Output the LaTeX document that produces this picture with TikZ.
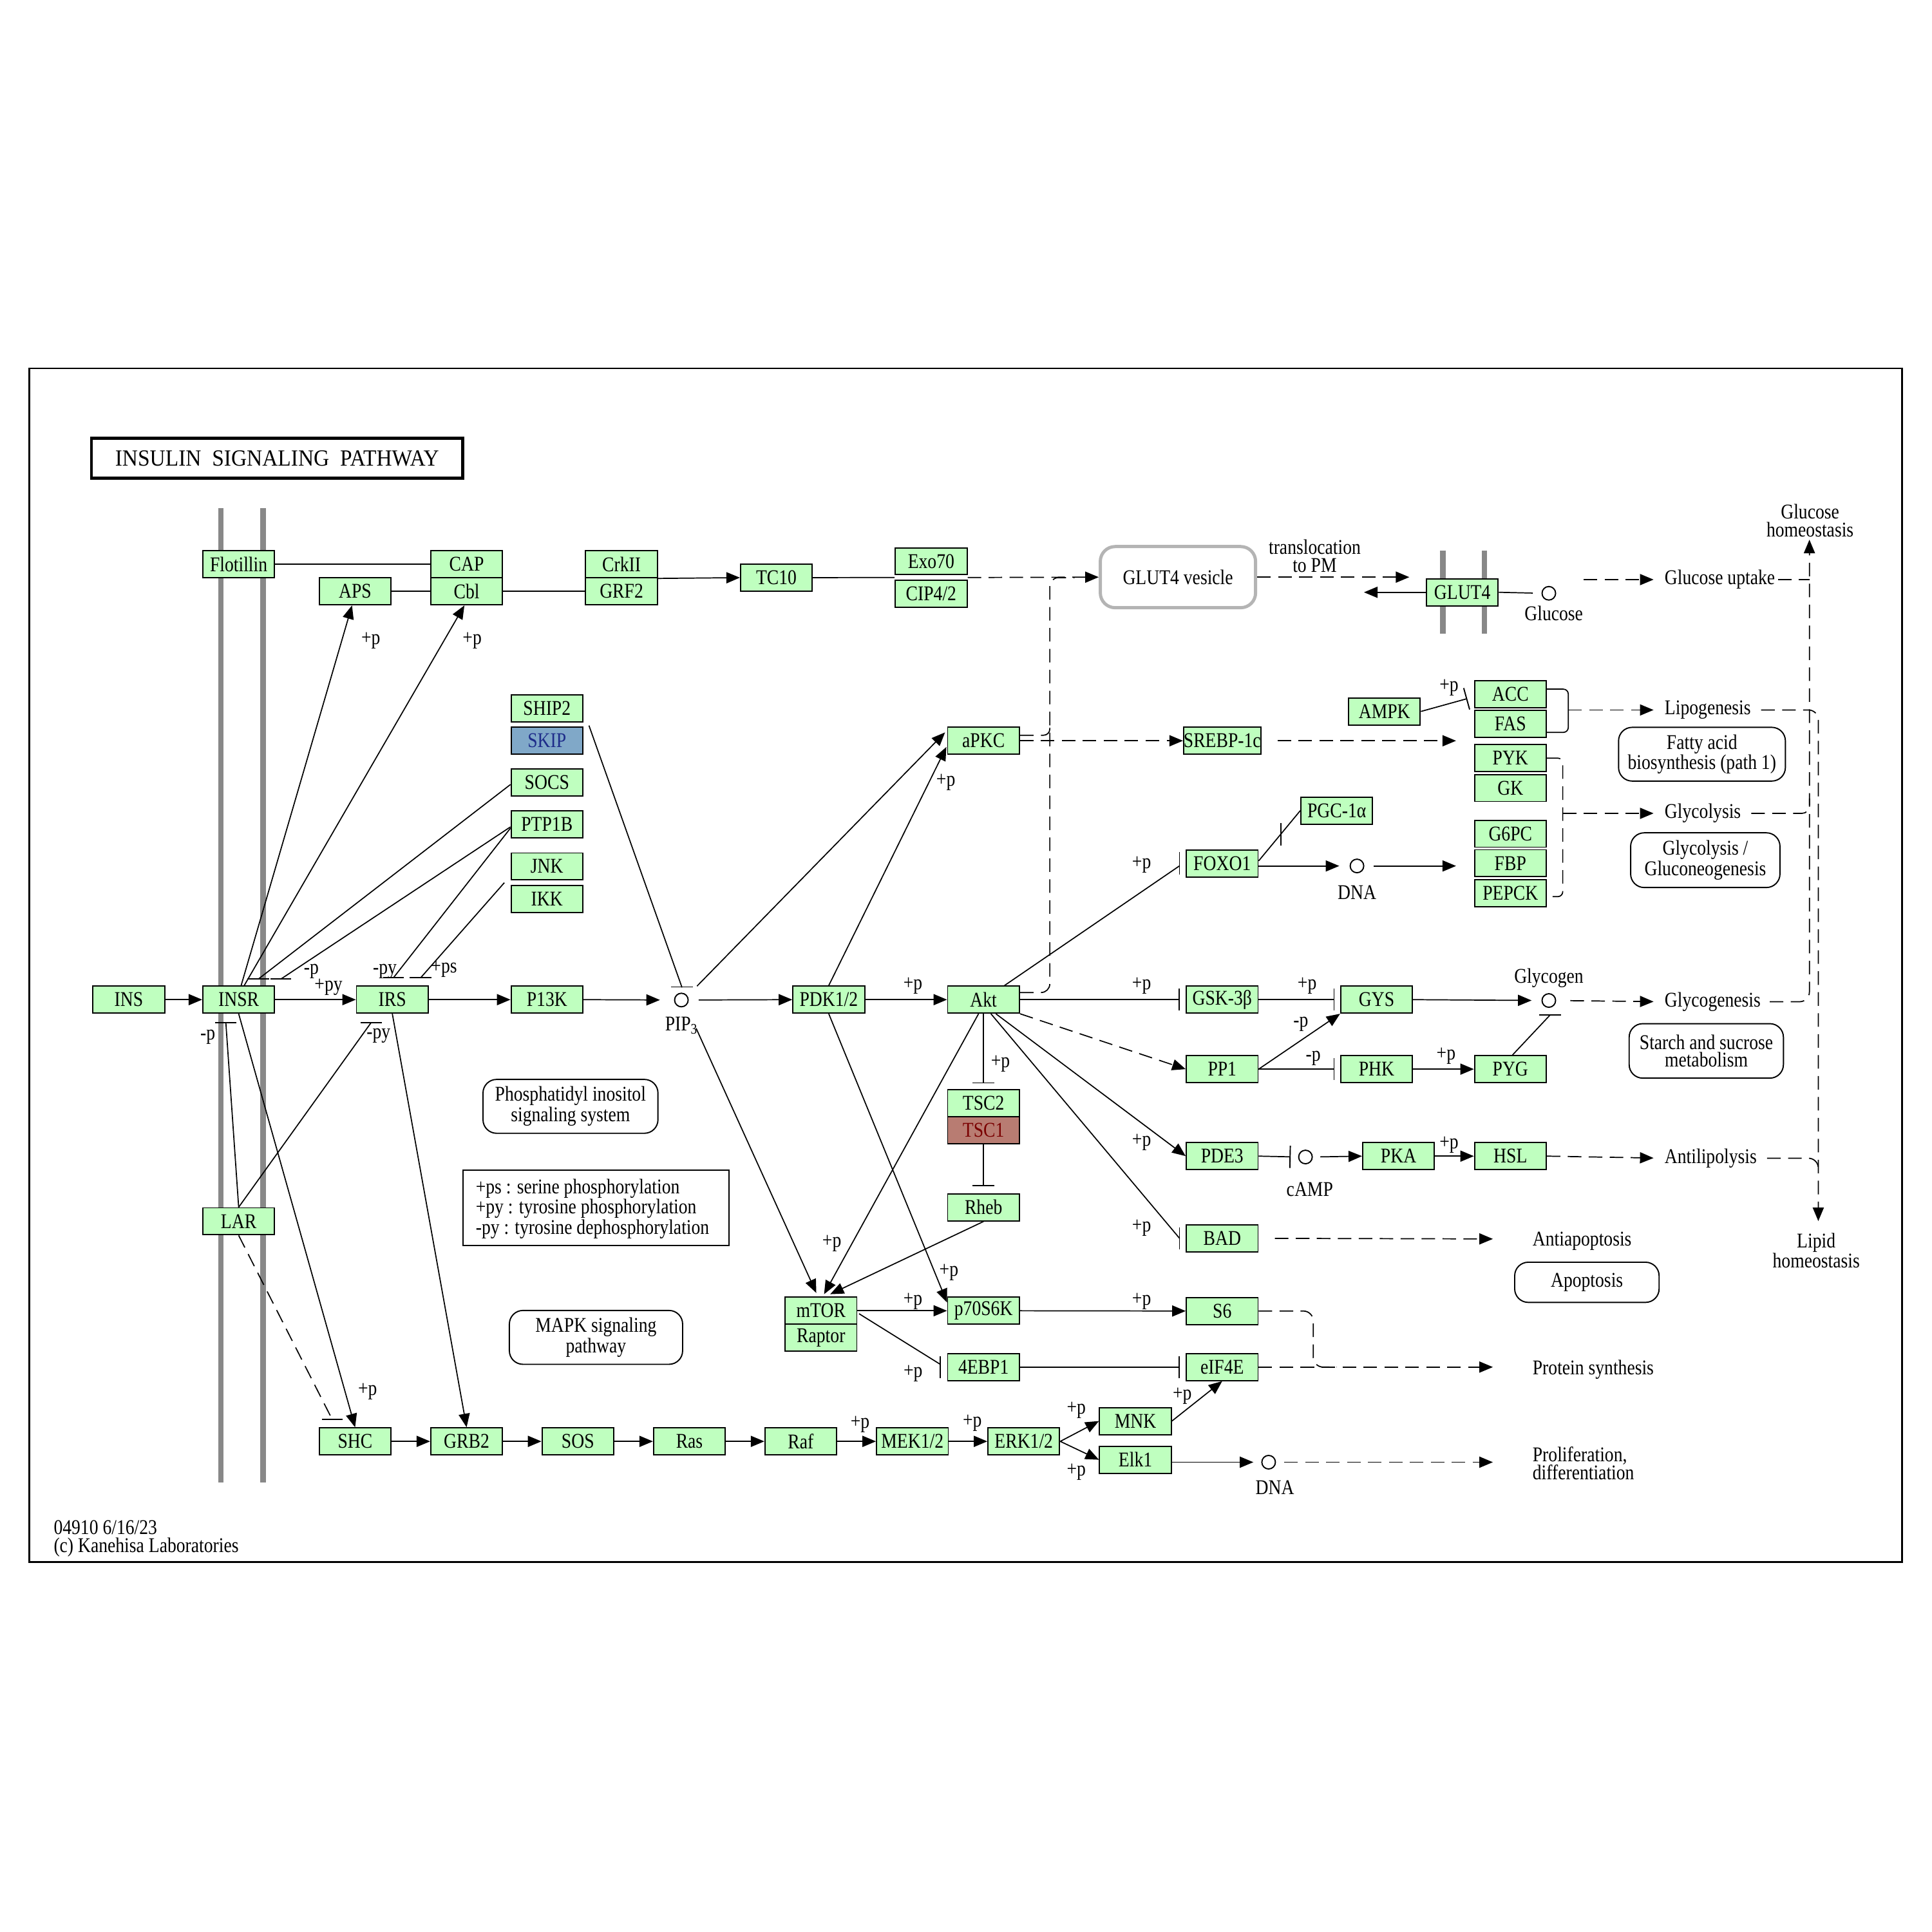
\documentclass[tikz,border=0pt]{standalone}
\usepackage{fontspec}
\setmainfont[FakeStretch=0.85]{Liberation Serif}
\newfontfamily\titlefont[FakeStretch=0.93]{Liberation Serif}
\usetikzlibrary{arrows.meta,calc}
\definecolor{kg}{HTML}{BFFFBF}
\definecolor{skipfill}{HTML}{80A8C8}
\definecolor{skiptext}{HTML}{1E2C8A}
\definecolor{tscfill}{HTML}{B87C72}
\definecolor{tsctext}{HTML}{7A0000}
\definecolor{memb}{HTML}{888888}
\definecolor{vesc}{HTML}{B4B4B4}
\newcommand{\gf}{\fontsize{17}{13.5}\selectfont}
\newcommand{\mf}{\fontsize{17}{14.6}\selectfont}
\newcommand{\kvbar}[2]{\draw ($(#1)+(#2,-9)$) -- ($(#1)+(#2,9)$);}
\newcommand{\khbar}[2]{\draw ($(#1)+(-#2,0)$) -- ($(#1)+(#2,0)$);}
\tikzset{
  kgbox/.style={draw, line width=1pt, fill=kg, minimum width=58.2pt, minimum height=21.9pt, inner sep=0pt, font=\gf},
  cpd/.style={circle, draw, line width=1pt, minimum size=11pt, inner sep=0pt, fill=white},
  lbl/.style={inner sep=0pt, font=\gf},
  mlbl/.style={inner sep=0pt, font=\mf},
  mapbox/.style={draw, line width=1pt, rounded corners=11pt, align=center, inner sep=0pt, font=\mf},
  act/.style={-{Triangle[length=11pt,width=9pt]}},
  inh/.style={-{Bar[width=18pt,line width=1pt]}},
  dsh/.style={dash pattern=on 11pt off 6pt},
  membl/.style={draw=memb, line width=4.5pt}
}
\begin{document}
\begin{tikzpicture}[x=1pt,y=-1pt,line width=0.9pt]
\useasboundingbox (0,0) rectangle (1568,1568);
% frame and membranes
\draw[line width=1.3pt] (23.9,298.9) rectangle (1543.7,1267.8);
\draw[membl] (179.2,412.6) -- (179.2,1203.2);
\draw[membl] (213.5,412.6) -- (213.5,1203.2);
\draw[membl] (1171,446.7) -- (1171,514.2);
\draw[membl] (1204.8,446.7) -- (1204.8,514.2);
% title
\node[draw, line width=2.5pt, minimum width=301.4pt, minimum height=32.5pt, inner sep=0pt, font=\titlefont\fontsize{18.8}{20}\selectfont] (title) at (224.9,372) {INSULIN~~SIGNALING~~PATHWAY};
% genes
\node[kgbox] (INS) at (104.5,811.3) {INS};
\node[kgbox] (INSR) at (193.7,811.3) {INSR};
\node[kgbox] (IRS) at (318.4,811.3) {IRS};
\node[kgbox] (P13K) at (443.9,811.3) {P13K};
\node[kgbox] (PDK) at (672.6,811.3) {PDK1/2};
\node[kgbox] (Akt) at (798.2,811.3) {Akt};
\node[kgbox] (GSK) at (991.9,811.3) {GSK-3β};
\node[kgbox] (GYS) at (1117.2,811.3) {GYS};
\node[kgbox] (Flot) at (193.7,458) {Flotillin};
\node[kgbox] (CAP) at (378.7,458) {CAP};
\node[kgbox] (Cbl) at (378.7,479.9) {Cbl};
\node[kgbox] (APS) at (288.2,479.9) {APS};
\node[kgbox] (CrkII) at (504.4,458) {CrkII};
\node[kgbox] (GRF2) at (504.4,479.9) {GRF2};
\node[kgbox] (TC10) at (630.1,468.8) {TC10};
\node[kgbox] (Exo70) at (755.7,455.5) {Exo70};
\node[kgbox] (CIP) at (755.7,481.9) {CIP4/2};
\node[kgbox] (SHIP2) at (443.9,574.9) {SHIP2};
\node[kgbox, fill=skipfill, text=skiptext] (SKIP) at (443.9,601.2) {SKIP};
\node[kgbox] (SOCS) at (443.9,635.2) {SOCS};
\node[kgbox] (PTP1B) at (443.9,669.1) {PTP1B};
\node[kgbox] (JNK) at (443.9,703.2) {JNK};
\node[kgbox] (IKK) at (443.9,729.6) {IKK};
\node[kgbox] (aPKC) at (798.2,601.2) {aPKC};
\node[kgbox] (SREBP) at (991.9,601.2) {SREBP-1c};
\node[kgbox] (AMPK) at (1123.6,577.4) {AMPK};
\node[kgbox] (ACC) at (1225.8,563.5) {ACC};
\node[kgbox] (FAS) at (1225.8,587.5) {FAS};
\node[kgbox] (PYK) at (1225.8,615.3) {PYK};
\node[kgbox] (GK) at (1225.8,639.5) {GK};
\node[kgbox] (G6PC) at (1225.8,676.6) {G6PC};
\node[kgbox] (FBP) at (1225.8,700.6) {FBP};
\node[kgbox] (PEPCK) at (1225.8,724.8) {PEPCK};
\node[kgbox] (GLUT4) at (1186.8,480.7) {GLUT4};
\node[kgbox] (PGC) at (1084.9,657.9) {PGC-1α};
\node[kgbox] (FOXO1) at (991.9,700.7) {FOXO1};
\node[kgbox] (PP1) at (991.9,867.7) {PP1};
\node[kgbox] (PHK) at (1117.2,867.7) {PHK};
\node[kgbox] (PYG) at (1225.8,867.7) {PYG};
\node[kgbox] (TSC2) at (798.2,895.5) {TSC2};
\node[kgbox, fill=tscfill, text=tsctext] (TSC1) at (798.2,917.2) {TSC1};
\node[kgbox] (Rheb) at (798.2,979.9) {Rheb};
\node[kgbox] (PDE3) at (991.9,938.3) {PDE3};
\node[kgbox] (PKA) at (1135,938.3) {PKA};
\node[kgbox] (HSL) at (1225.8,938.3) {HSL};
\node[kgbox] (BAD) at (991.9,1005) {BAD};
\node[kgbox] (mTOR) at (666.3,1063.8) {mTOR};
\node[kgbox] (Raptor) at (666.3,1085.7) {Raptor};
\node[kgbox] (p70) at (798.2,1063.8) {p70S6K};
\node[kgbox] (EBP) at (798.2,1109.5) {4EBP1};
\node[kgbox] (S6) at (991.9,1064) {S6};
\node[kgbox] (eIF) at (991.9,1109.5) {eIF4E};
\node[kgbox] (LAR) at (193.7,991.2) {LAR};
\node[kgbox] (SHC) at (288.2,1169.8) {SHC};
\node[kgbox] (GRB2) at (378.7,1169.8) {GRB2};
\node[kgbox] (SOS) at (469,1169.8) {SOS};
\node[kgbox] (Ras) at (559.5,1169.8) {Ras};
\node[kgbox] (Raf) at (649.9,1169.8) {Raf};
\node[kgbox] (MEK) at (740.5,1169.8) {MEK1/2};
\node[kgbox] (ERK) at (830.9,1169.8) {ERK1/2};
\node[kgbox] (MNK) at (921.5,1153.3) {MNK};
\node[kgbox] (Elk1) at (921.5,1184.7) {Elk1};
% compounds
\node[cpd] (pip) at (553,811.6) {};
\node[cpd] (glc) at (1257,481.5) {};
\node[cpd] (dna1) at (1101.3,702.8) {};
\node[cpd] (glyc) at (1257,812) {};
\node[cpd] (camp) at (1059.5,939) {};
\node[cpd] (dna2) at (1029.6,1186.7) {};
\node[lbl] (pipl) at (553,832.3) {PIP\textsubscript{3}};
\node[lbl] (glcl) at (1261,498) {Glucose};
\node[lbl] (dna1l) at (1101.3,724.5) {DNA};
\node[lbl] (glycl) at (1257,793.9) {Glycogen};
\node[lbl] (campl) at (1063,965.3) {cAMP};
\node[lbl] (dna2l) at (1034.7,1207.4) {DNA};
% vesicle and maps
\node[draw=vesc, line width=2.6pt, rounded corners=12pt, minimum width=126pt, minimum height=49.6pt, inner sep=0pt, font=\gf] (ves) at (956,468.4) {GLUT4 vesicle};
\node[mapbox, minimum width=135.4pt, minimum height=43.6pt] (fab) at (1381.3,612.1) {Fatty acid\\biosynthesis (path 1)};
\node[mapbox, minimum width=121.2pt, minimum height=44.4pt] (glyg) at (1384,698.1) {Glycolysis /\\Gluconeogenesis};
\node[mapbox, minimum width=125.2pt, minimum height=44.2pt] (starch) at (1384.8,852.9) {Starch and sucrose\\metabolism};
\node[mapbox, minimum width=117.2pt, minimum height=32.6pt] (apop) at (1287.9,1040.7) {Apoptosis};
\node[mapbox, minimum width=142pt, minimum height=43.7pt] (pis) at (463,897.9) {Phosphatidyl inositol\\signaling system};
\node[mapbox, minimum width=140.6pt, minimum height=43.7pt] (mapk) at (483.7,1085.4) {MAPK signaling\\pathway};
% legend and footer
\node[draw, line width=1pt, minimum width=215.9pt, minimum height=60.8pt, inner sep=0pt] (legend) at (483.6,980.2) {};
\node[lbl, anchor=west, align=left, font=\fontsize{17}{14.7}\selectfont] (legtxt) at (385.7,981.1) {+ps : serine phosphorylation\\+py : tyrosine phosphorylation\\-py : tyrosine dephosphorylation};
\node[lbl, anchor=west, align=left, font=\fontsize{17}{14.6}\selectfont] (foot) at (43.2,1248.8) {04910 6/16/23\\(c) Kanehisa Laboratories};
% outcome texts
\node[mlbl, align=center] (trans) at (1067,451.3) {translocation\\to PM};
\node[mlbl, align=center] (ghom) at (1469,422.4) {Glucose\\homeostasis};
\node[mlbl, align=center] (lhom) at (1474,1014.9) {Lipid\\homeostasis};
\node[lbl, anchor=west] (gu) at (1350.6,470.4) {Glucose uptake};
\node[lbl, anchor=west] (lipo) at (1350.6,576.2) {Lipogenesis};
\node[lbl, anchor=west] (glycolysis) at (1350.6,660.1) {Glycolysis};
\node[lbl, anchor=west] (glycogenesis) at (1350.6,813) {Glycogenesis};
\node[lbl, anchor=west] (antil) at (1350.6,940) {Antilipolysis};
\node[lbl, anchor=west] (antiap) at (1243.4,1007.3) {Antiapoptosis};
\node[lbl, anchor=west] (psyn) at (1243.4,1111.4) {Protein synthesis};
\node[mlbl, anchor=west, align=left] (prolif) at (1243.4,1187.7) {Proliferation,\\differentiation};
% edge labels
\node[lbl] (l1) at (300.9,520) {+p};
\node[lbl] (l2) at (383.2,520) {+p};
\node[lbl] (l3) at (252.7,788.5) {-p};
\node[lbl] (l4) at (266.6,801.4) {+py};
\node[lbl] (l5) at (312.3,788.1) {-py};
\node[lbl] (l6) at (360.4,786.4) {+ps};
\node[lbl] (l7) at (168.6,841.9) {-p};
\node[lbl] (l8) at (307.2,840.8) {-py};
\node[lbl] (l9) at (298.3,1129.6) {+p};
\node[lbl] (l10) at (698,1156) {+p};
\node[lbl] (l11) at (789.1,1155) {+p};
\node[lbl] (l12) at (873.5,1144.5) {+p};
\node[lbl] (l13) at (873.5,1194.6) {+p};
\node[lbl] (l14) at (959.5,1132.8) {+p};
\node[lbl] (l15) at (740.9,1056) {+p};
\node[lbl] (l16) at (741,1114.7) {+p};
\node[lbl] (l17) at (926.5,1056) {+p};
\node[lbl] (l18) at (675.1,1009) {+p};
\node[lbl] (l19) at (770.1,1032.5) {+p};
\node[lbl] (l20) at (812,863.5) {+p};
\node[lbl] (l21) at (740.9,800.3) {+p};
\node[lbl] (l22) at (767.6,635) {+p};
\node[lbl] (l23) at (926.5,702) {+p};
\node[lbl] (l24) at (926.5,800.3) {+p};
\node[lbl] (l25) at (1060.8,800.3) {+p};
\node[lbl] (l26) at (1055.7,831.2) {-p};
\node[lbl] (l27) at (1065.8,859) {-p};
\node[lbl] (l28) at (1173.6,856.8) {+p};
\node[lbl] (l29) at (926.5,927.2) {+p};
\node[lbl] (l30) at (926.5,996.7) {+p};
\node[lbl] (l31) at (1176,929.3) {+p};
\node[lbl] (l32) at (1176,558.3) {+p};
% free end coordinates
\coordinate (exoL) at ($(Exo70.south west)!0.5!(CIP.north west)$);
\coordinate (exoR) at ($(Exo70.south east)!0.5!(CIP.north east)$);
\coordinate (g4out) at (1107,480.7);
\coordinate (gu0) at (1285.3,470.4);
\coordinate (apo0) at (1211.6,1005.5);
\coordinate (ps0) at (1211.6,1109.5);
\coordinate (pr0) at (1211.6,1186.7);
% ---------- edges: top row
\draw (Flot.east) -- (CAP.west);
\draw (APS.east) -- (Cbl.west);
\draw (Cbl.east) -- (GRF2.west);
\draw[act] (CrkII.south east) -- (TC10.west);
\draw (TC10.east) -- (exoL);
\draw[dsh,act] (exoR) -- (ves.west);
\draw[dsh,act,shorten >=13.4pt] (ves.east) -- (ves.east -| GLUT4.west);
\draw[act] (GLUT4.west) -- (g4out);
\draw[shorten >=7pt] (GLUT4.east) -- (glc.west);
\draw[dsh,act,shorten >=8.6pt] (gu0) -- (gu.west);
% right side collectors
\draw[dsh,shorten <=2pt] (gu.east) -- (1468.5,470.4);
\draw[dsh,act,rounded corners=8pt,shorten <=7pt] (glycogenesis.east) -- (1468.5,813) -- (1468.5,438);
\draw[dsh,rounded corners=6pt,shorten <=8pt] (glycolysis.east) -- (1468.5,660.1) -- (1468.5,648);
\draw[dsh,act,rounded corners=8pt,shorten <=8pt] (lipo.east) -- (1475.7,576.2) -- (1475.7,991);
\draw[dsh,rounded corners=8pt,shorten <=8pt] (antil.east) -- (1475.7,940) -- (1475.7,952);
% brackets
\draw[rounded corners=4pt] ([yshift=4.2pt]ACC.east) -- (1272.8,559.3) -- (1272.8,594.4) -- ([yshift=-6.9pt]FAS.east);
\draw[dsh,act,shorten >=8.6pt] (1272.8,576.2) -- (lipo.west);
\draw[dsh,rounded corners=4pt] (PYK.east) -- (1268.3,615.3) -- (1268.3,727.7) -- ([yshift=-2.9pt]PEPCK.east);
\draw[dsh,act,shorten >=8.6pt] (1268.3,660.1) -- (glycolysis.west);
% SREBP, FOXO
\draw[dsh,act] (aPKC.east) -- (SREBP.west);
\draw[dsh,act,shorten <=13pt,shorten >=14.5pt] (SREBP.east) -- (SREBP.east -| FAS.west);
\draw[inh] (AMPK.east) -- ($(ACC.west)+(-5.4,3.5)$);
\draw ($(Akt.north)+(17,0)$) -- ($(FOXO1.west)+(-5,2)$);
\kvbar{FOXO1.west}{-5}
\draw ($(FOXO1.east)+(0,-2)$) -- (PGC.west);
\draw ($(FOXO1.east)!0.54!(PGC.west)+(0,-9.5)$) -- ($(FOXO1.east)!0.54!(PGC.west)+(0,8.5)$);
\draw[act,shorten >=8.4pt] (FOXO1.east |- dna1.west) -- (dna1.west);
\draw[act,shorten <=7.7pt,shorten >=14.5pt] (dna1.east) -- (dna1.east -| G6PC.west);
% aPKC / Akt to GLUT4 vesicle
\draw[dsh,rounded corners=7pt] ($(Akt.east)+(0,-5.8)$) -- (852,805.5) -- (852,468.8) -- (872,468.8);
\draw[dsh,rounded corners=5pt] ($(aPKC.east)+(0,-4.5)$) -- (852,596.7) -- (852,585);
% glycogen
\draw[inh,shorten >=5pt] (Akt.east) -- (GSK.west);
\draw[inh,shorten >=4.4pt] (GSK.east) -- (GYS.west);
\draw[act,shorten >=8pt] (GYS.east) -- (glyc.west);
\draw[dsh,act,shorten <=11.5pt,shorten >=8.6pt] (glyc.east) -- (glycogenesis.west);
\draw ($(PYG.north)+(1.7,0)$) -- ($(glyc.center)+(1,11.8)$);
\draw ($(glyc.center)+(-7.8,11.8)$) -- ($(glyc.center)+(9.8,11.8)$);
\draw[dsh,act] (Akt.south east) -- (PP1.west);
\draw[act] (PP1.east) -- (GYS.south west);
\draw[inh,shorten >=4.4pt] (PP1.east) -- (PHK.west);
\draw[act] (PHK.east) -- (PYG.west);
% lipolysis, apoptosis
\draw[act] ($(Akt.south)+(10,0)$) -- (PDE3.west);
\draw ($(Akt.south)+(6,0)$) -- ($(BAD.west)+(-5,0)$);
\kvbar{BAD.west}{-5}
\draw[inh,shorten >=6pt] (PDE3.east) -- (camp.west);
\draw[act,shorten <=6pt] (camp.east) -- (PKA.west);
\draw[act] (PKA.east) -- (HSL.west);
\draw[dsh,act,shorten >=8.6pt] (HSL.east) -- (antil.west);
\draw[dsh,act,shorten <=13.2pt] (BAD.east) -- (apo0);
% protein synthesis
\draw[dsh,rounded corners=8pt] (S6.east) -- (1065.8,1064) -- (1065.8,1109.5) -- (1085,1109.5);
\draw[dsh,act] (eIF.east) -- (ps0);
\draw[act,shorten >=6.4pt] (Elk1.east |- dna2.west) -- (dna2.west);
\draw[dsh,act,shorten <=6.7pt] (dna2.east) -- (pr0);
\draw[act] (ERK.east) -- (MNK.west);
\draw[act] (ERK.east) -- (Elk1.west);
\draw[act] (MNK.east) -- (eIF.south);
\draw[inh,shorten >=5pt] (EBP.east) -- (eIF.west);
\draw[act] (mTOR.east) -- (p70.west);
\draw ($(mTOR.east)+(1.3,2.4)$) -- ($(EBP.west)+(-5.6,-2.3)$);
\kvbar{EBP.west}{-5.6}
\draw[act] (p70.east) -- (S6.west);
% mTOR inputs
\draw[act] (Rheb.south) -- ($(mTOR.north)+(7.5,-2)$);
\draw[act] ($(Akt.south)+(-4,0)$) -- ($(mTOR.north)+(2.5,-2)$);
\draw[act] ($(pip.center)+(12,23)$) -- ($(mTOR.north)+(-3.8,-3)$);
\draw[act] (PDK.south) -- ($(p70.west)+(0,-6.8)$);
\draw[inh,shorten >=4.7pt] (Akt.south) -- (TSC2.north);
\draw[inh,shorten >=5.7pt] (TSC1.south) -- (Rheb.north);
% PI3K axis
\draw[act] (PDK.east) -- (Akt.west);
\draw[act,shorten <=8pt] (pip.east) -- (PDK.west);
\draw[act,shorten >=11.4pt] (P13K.east) -- (pip.west);
\draw[act] ($(pip.center)+(12.7,-11.3)$) -- ($(aPKC.west)+(-1.6,-6.8)$);
\draw[act] (PDK.north) -- ($(aPKC.west)+(-0.5,5)$);
\draw ($(SHIP2.south east)+(4.5,2.5)$) -- ($(pip.center)+(0.5,-10.2)$);
\draw ($(pip.center)+(-8.4,-10.6)$) -- ($(pip.center)+(9.4,-10.6)$);
\draw[act] (IRS.east) -- (P13K.west);
\draw[act] (INS.east) -- (INSR.west);
\draw[act] (INSR.east) -- (IRS.west);
\draw[act] ($(INSR.north)+(2,0)$) -- ($(APS.south)+(-2.5,0)$);
\draw[act] ($(INSR.north)+(4.5,0)$) -- ($(Cbl.south)+(-1.8,0)$);
% receptor regulators
\coordinate (b1) at ($(INSR.north)+(16,-5.3)$);
\coordinate (b2) at ($(INSR.north)+(34.3,-5.3)$);
\coordinate (b3) at ($(IRS.north)+(0.9,-6.3)$);
\coordinate (b4) at ($(IRS.north)+(23,-6.3)$);
\coordinate (b5) at ($(INSR.south)+(-10.4,7.3)$);
\coordinate (b6) at ($(IRS.south)+(-17.3,7.3)$);
\coordinate (b7) at ($(SHC.north)+(-18.6,-6.4)$);
\coordinate (jk) at ($(JNK.south west)!0.5!(IKK.north west)+(-5,0)$);
\draw ($(SOCS.west)+(0,1.5)$) -- (b1);
\khbar{b1}{8.9}
\draw ($(PTP1B.west)+(0,2)$) -- (b2);
\khbar{b2}{8.3}
\draw ($(PTP1B.west)+(0,3)$) -- (b3);
\khbar{b3}{8.3}
\draw (jk) -- (b4);
\khbar{b4}{8.9}
\draw (LAR.north) -- (b5);
\khbar{b5}{8.6}
\draw (LAR.north) -- (b6);
\khbar{b6}{8.6}
\draw[act] (INSR.south) -- (SHC.north);
\draw[dsh] (LAR.south) -- (b7);
\khbar{b7}{8.5}
\draw[act] (IRS.south) -- (GRB2.north);
% MAPK cascade
\draw[act] (SHC.east) -- (GRB2.west);
\draw[act] (GRB2.east) -- (SOS.west);
\draw[act] (SOS.east) -- (Ras.west);
\draw[act] (Ras.east) -- (Raf.west);
\draw[act] (Raf.east) -- (MEK.west);
\draw[act] (MEK.east) -- (ERK.west);
\end{tikzpicture}
\end{document}
